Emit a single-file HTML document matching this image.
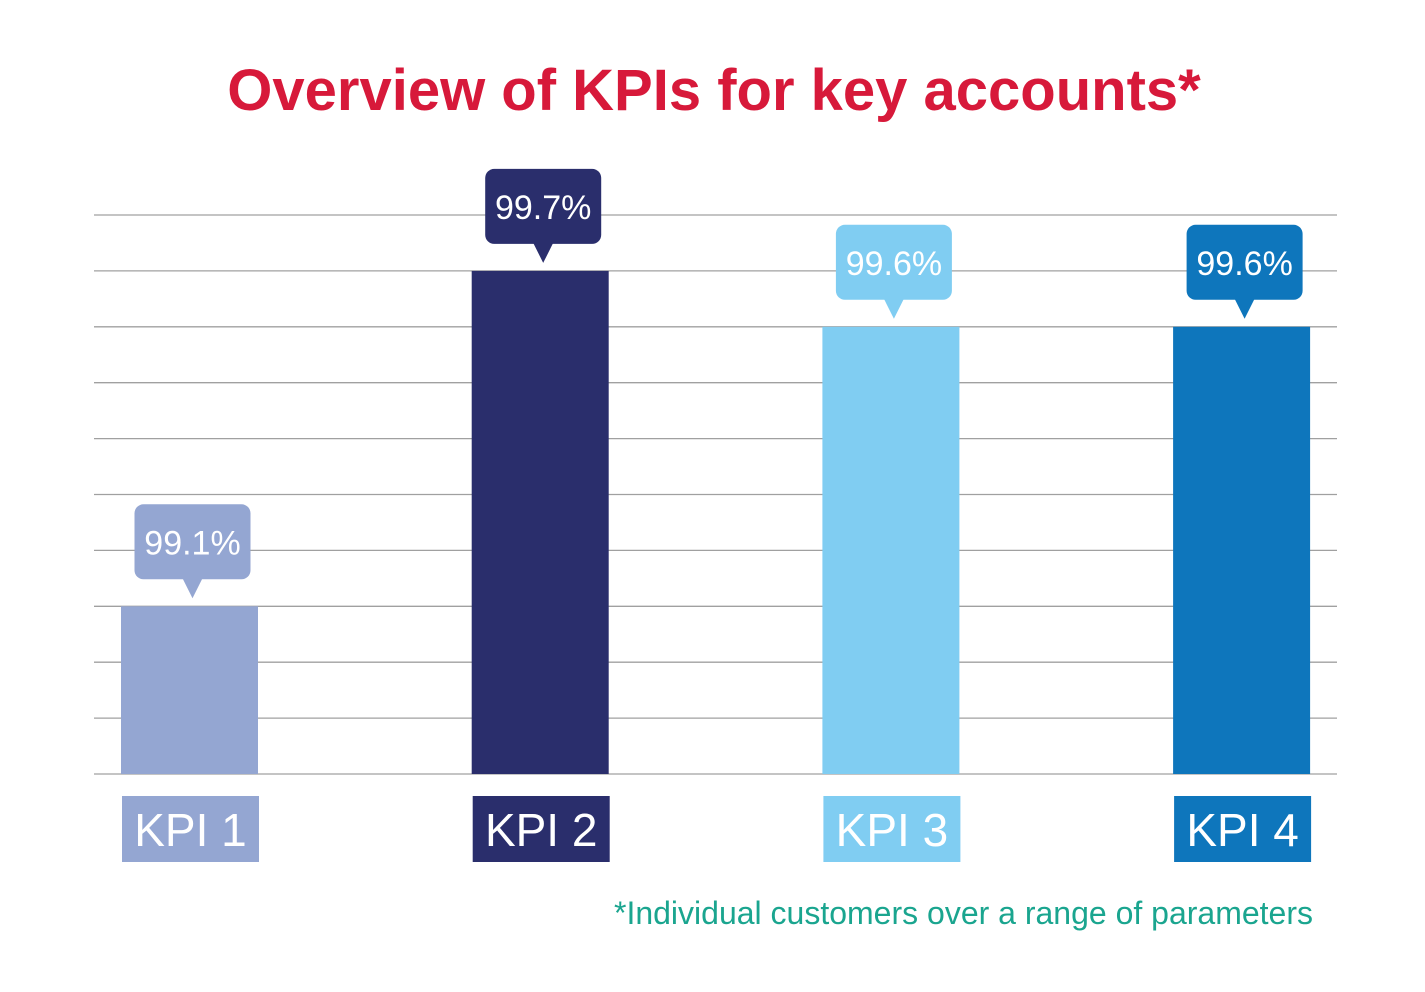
<!DOCTYPE html>
<html><head><meta charset="utf-8"><style>
html,body{margin:0;padding:0;background:#fff;}
svg{display:block;}
</style></head><body>
<svg id="chart" width="1425" height="992" xmlns="http://www.w3.org/2000/svg">
<text x="714" y="110" text-anchor="middle" font-family="Liberation Sans, sans-serif" font-weight="bold" font-size="58" fill="#d7193a">Overview of KPIs for key accounts*</text>
<g id="grid"></g>
<g id="bars"></g>
<text x="1313" y="924" text-anchor="end" font-family="Liberation Sans, sans-serif" font-size="32" fill="#1aa58f">*Individual customers over a range of parameters</text>
</svg>
<script>
const categories = ["KPI 1","KPI 2","KPI 3","KPI 4"];
const values = [99.1, 99.7, 99.6, 99.6];
const valueLabels = ["99.1%","99.7%","99.6%","99.6%"];
const yTicks = [98.8,98.9,99.0,99.1,99.2,99.3,99.4,99.5,99.6,99.7,99.8];
const colors = ["#94a6d2","#2a2e6c","#80cdf2","#0e76bc"];

const NS="http://www.w3.org/2000/svg";
const yMin=98.8,yMax=99.8,yBase=774,yTop=215;
function y(v){return yBase-(v-yMin)/(yMax-yMin)*(yBase-yTop);}
const x0=121,step=350.7,bw=137;
function x(i){return x0+i*step;}
function mk(tag,attrs,parent){const e=document.createElementNS(NS,tag);for(const k in attrs)e.setAttribute(k,attrs[k]);parent.appendChild(e);return e;}

const grid=document.getElementById('grid');
yTicks.forEach(t=>{
  const l=mk('line',{x1:94,x2:1337,y1:y(t),y2:y(t),stroke:'#a0a0a0','stroke-width':1.3},grid);
  
  
});
const bars=document.getElementById('bars');
categories.forEach((c,i)=>{
  const bx=x(i),by=y(values[i]),col=colors[i];
  const r=mk('rect',{x:bx,y:by,width:bw,height:yBase-by,fill:col},bars);
  
  
  const cx=bx+bw/2+3;
  const cb=mk('rect',{x:cx-58,y:by-102,width:116,height:75,rx:9,fill:col},bars);
  
  
  const p=mk('polygon',{points:`${cx-10},${by-28} ${cx+10},${by-28} ${cx},${by-8}`,fill:col},bars);
  
  
  const vt=mk('text',{x:cx,y:by-52,'text-anchor':'middle','font-family':'Liberation Sans, sans-serif','font-size':34,fill:'#fff'},bars);
  vt.textContent=valueLabels[i];
  
  
  const lb=mk('rect',{x:bx+1,y:796,width:bw,height:66,fill:col},bars);
  
  
  const lt=mk('text',{x:bx+1+bw/2,y:846,'text-anchor':'middle','font-family':'Liberation Sans, sans-serif','font-size':46,fill:'#fff'},bars);
  lt.textContent=c;
  
  
});
</script>
</body></html>
